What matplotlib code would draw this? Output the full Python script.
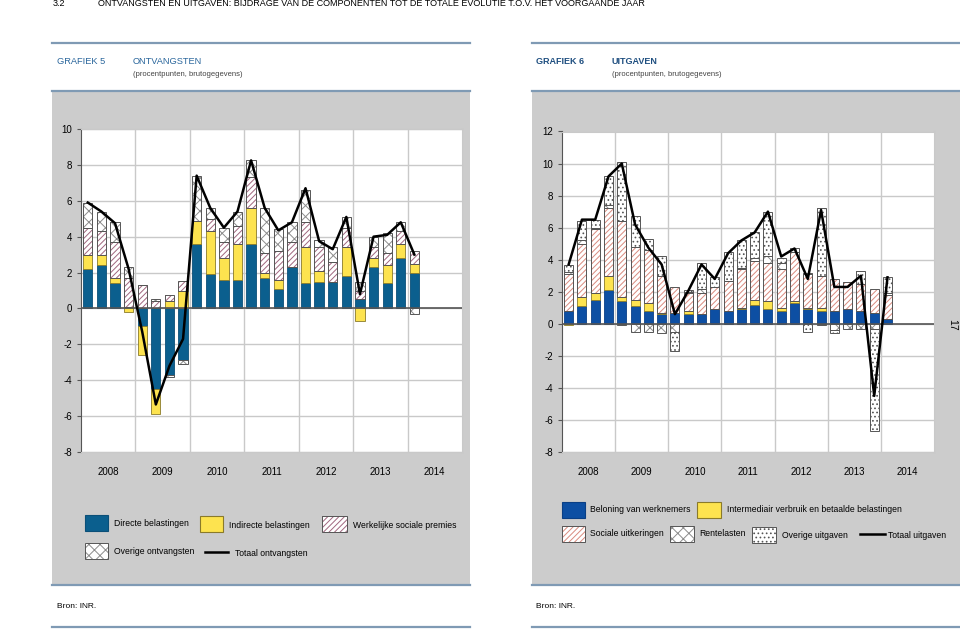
import numpy as np
import matplotlib.pyplot as plt
from matplotlib.patches import Rectangle
from matplotlib.lines import Line2D

plt.rcParams['font.family'] = ['Liberation Sans', 'DejaVu Sans']
plt.rcParams['hatch.linewidth'] = 0.7
plt.rcParams['axes.unicode_minus'] = False

years = ['2008', '2009', '2010', '2011', '2012', '2013', '2014']
quarters = np.arange(25)  # 2008K1 .. 2014K1

# Grafiek 5 - ontvangsten (procentpunten)
directe = [2.2, 2.4, 1.4, 0.1, -1.0, -4.5, -3.7, -2.85, 3.6, 1.9, 1.6, 1.6, 3.6,
           1.7, 1.1, 2.3, 1.4, 1.5, 1.5, 1.8, 0.5, 2.3, 1.4, 2.8, 2.0]
indirecte = [0.8, 0.6, 0.3, -0.2, -1.6, -1.4, 0.4, 1.0, 1.3, 2.4, 1.2, 2.0, 2.0,
             0.3, 0.5, 0.0, 2.0, 0.6, 0.0, 1.6, -0.7, 0.5, 1.0, 0.8, 0.5]
sociale_premies = [1.5, 1.3, 2.0, 1.6, 1.3, 0.4, 0.33, 0.53, 0.0, 0.7, 0.9, 1.0, 1.7,
                   1.1, 1.6, 1.4, 1.4, 1.3, 1.1, 1.1, 0.5, 0.6, 0.7, 0.7, 0.7]
overige_ontv = [1.4, 1.1, 1.1, 0.6, 0.0, 0.1, -0.1, -0.25, 2.5, 0.6, 0.8, 0.8, 1.0,
                2.5, 1.2, 1.1, 1.8, 0.4, 0.8, 0.6, 0.5, 0.6, 1.1, 0.5, -0.3]
totaal_ontv = [5.9, 5.4, 4.75, 2.2, -1.3, -5.35, -3.2, -1.7, 7.4, 5.6, 4.5, 5.4, 8.25,
               5.6, 4.35, 4.8, 6.7, 3.75, 3.3, 5.1, 0.8, 4.0, 4.1, 4.8, 3.0]

# Grafiek 6 - uitgaven (procentpunten)
beloning = [0.8, 1.1, 1.5, 2.1, 1.4, 1.1, 0.8, 0.6, 0.7, 0.6, 0.6, 0.9, 0.8,
            0.9, 1.2, 0.9, 0.8, 1.3, 0.9, 0.8, 0.8, 0.9, 0.8, 0.7, 0.3]
intermediair = [-0.05, 0.6, 0.4, 0.9, 0.3, 0.4, 0.5, 0.1, 0.0, 0.2, 0.0, 0.0, 0.0,
                0.1, 0.3, 0.5, 0.2, 0.1, 0.1, 0.2, 0.0, 0.0, 0.0, 0.0, 0.0]
sociale_uitk = [2.3, 3.3, 4.0, 4.2, 4.7, 3.3, 3.3, 2.3, 1.6, 1.1, 1.35, 1.4, 1.9,
                2.4, 2.4, 2.4, 2.4, 3.1, 2.1, 2.0, 2.0, 1.7, 1.7, 1.5, 1.5]
rentelasten = [0.15, 0.2, 0.1, 0.2, -0.1, -0.5, -0.5, -0.6, -0.5, 0.1, 0.2, 0.0, 0.0,
               0.1, 0.2, 0.4, 0.4, 0.0, 0.1, -0.05, -0.4, -0.3, -0.3, -0.3, 0.1]
overige_uitg = [0.45, 1.2, 0.5, 1.8, 3.7, 1.9, 0.7, 1.2, -1.2, 0.1, 1.65, 0.6, 1.8,
                1.7, 1.6, 2.8, 0.3, 0.2, -0.5, 4.2, -0.2, 0.0, 0.8, -6.4, 1.0]
totaal_uitg = [3.7, 6.5, 6.5, 9.2, 10.0, 6.2, 4.75, 3.7, 0.6, 2.05, 3.7, 2.8, 4.4,
               5.2, 5.7, 7.0, 4.2, 4.7, 2.8, 7.1, 2.3, 2.3, 3.0, -4.5, 2.9]

W, H = 960, 630
fig = plt.figure(figsize=(9.6, 6.3), dpi=100)
fig.patch.set_facecolor('white')

def fx(x):
    return x / W

def fy(y):
    return 1 - y / H

def box(x0, y0, x1, y1, **kw):
    r = Rectangle((fx(x0), fy(y1)), (x1 - x0) / W, (y1 - y0) / H,
                  transform=fig.transFigure, **kw)
    fig.add_artist(r)

def hline(x0, x1, y, **kw):
    fig.add_artist(Line2D([fx(x0), fx(x1)], [fy(y), fy(y)], transform=fig.transFigure, **kw))

def label(x, y, s, **kw):
    kw.setdefault('fontsize', 6.2)
    kw.setdefault('va', 'center')
    fig.text(fx(x), fy(y), s, **kw)

blue_l = dict(facecolor='#0b5f8e', edgecolor='#0b4f78')
blue_r = dict(facecolor='#0d4fa3', edgecolor='#0a3f85')
yellow = dict(facecolor='#fde34f', edgecolor='#8a7a2a')
purple_hatch = dict(facecolor='white', edgecolor='#a0667f', hatch='//////')
red_hatch = dict(facecolor='white', edgecolor='#d98a7e', hatch='//////')
cross = dict(facecolor='white', edgecolor='#8c8c8c', hatch='xxx')
dots = dict(facecolor='white', edgecolor='#555555', hatch='....')

line_col = '#7f9ab4'
grey = '#cccccc'

# panels
box(52, 92, 470, 585, facecolor=grey, edgecolor='none', zorder=-5)
box(532, 92, 960, 585, facecolor=grey, edgecolor='none', zorder=-5)
for x0, x1 in [(52, 470), (532, 960)]:
    for y in [43, 91, 585, 627]:
        hline(x0, x1, y, color=line_col, lw=1.6, zorder=-4)

label(53, 4, '3.2', fontsize=6.5)
label(98, 4, 'ONTVANGSTEN EN UITGAVEN: BIJDRAGE VAN DE COMPONENTEN TOT DE TOTALE EVOLUTIE T.O.V. HET VOORGAANDE JAAR',
      fontsize=6.5)

head = '#2a669c'
label(57, 62, 'GRAFIEK 5', color=head, fontsize=6.7)
label(133, 62, 'ONTVANGSTEN', color=head, fontsize=6.7)
label(133, 74, '(procentpunten, brutogegevens)', color='#444444', fontsize=5.5)
label(536, 62, 'GRAFIEK 6', color='#1f4f80', fontsize=6.5, fontweight='bold')
label(612, 62, 'UITGAVEN', color='#1f4f80', fontsize=6.5, fontweight='bold')
label(612, 75, '(procentpunten, brutogegevens)', color='#444444', fontsize=5.5)

label(57, 607, 'Bron: INR.', fontsize=6)
label(536, 607, 'Bron: INR.', fontsize=6)
label(952, 325, '17', fontsize=7.5, rotation=270, ha='center')


def stacked(ax, series, total):
    pos = np.zeros(len(quarters))
    neg = np.zeros(len(quarters))
    for vals, style in series:
        vals = np.array(vals, dtype=float)
        bottom = np.where(vals >= 0, pos, neg)
        if 'hatch' in style:
            ax.bar(quarters, vals, 0.68, bottom=bottom, lw=0, zorder=2, **style)
            ax.bar(quarters, vals, 0.68, bottom=bottom, fill=False, edgecolor='#555555',
                   lw=0.7, zorder=3)
        else:
            ax.bar(quarters, vals, 0.68, bottom=bottom, lw=0.6, zorder=2, **style)
        pos += np.clip(vals, 0, None)
        neg += np.clip(vals, None, 0)
    ax.plot(quarters, total, color='black', lw=1.8, zorder=5)


def style_axes(ax, ymax):
    ax.set_xlim(-0.5, 27.5)
    ax.set_ylim(-8, ymax)
    ax.set_yticks(np.arange(-8, ymax + 1, 2))
    ax.set_xticks(np.arange(1.5, 28, 4))
    ax.set_xticklabels(years)
    ax.tick_params(axis='x', length=0, pad=11, labelsize=7)
    ax.tick_params(axis='y', length=3, direction='out', labelsize=7, color='#555555')
    for y in np.arange(-8, ymax + 1, 2):
        ax.axhline(y, color='#c9c9c9', lw=1, zorder=1)
    for x in np.arange(3.5, 27, 4):
        ax.axvline(x, color='#c9c9c9', lw=1, zorder=1)
    ax.axhline(0, color='#555555', lw=1.2, zorder=4)
    for side in ['top', 'right', 'bottom']:
        ax.spines[side].set_color('#c9c9c9')
    ax.spines['left'].set_color('#555555')
    ax.set_facecolor('white')


ax1 = fig.add_axes([fx(81), fy(452), (462 - 81) / W, (452 - 129) / H], zorder=1)
stacked(ax1, [(directe, blue_l), (indirecte, yellow), (sociale_premies, purple_hatch),
              (overige_ontv, cross)], totaal_ontv)
style_axes(ax1, 10)

ax2 = fig.add_axes([fx(562), fy(452), (934 - 562) / W, (452 - 131.5) / H], zorder=1)
stacked(ax2, [(beloning, blue_r), (intermediair, yellow), (sociale_uitk, red_hatch),
              (rentelasten, cross), (overige_uitg, dots)], totaal_uitg)
style_axes(ax2, 12)


def legend_patch(x0, y0, x1, y1, style):
    if 'hatch' in style:
        box(x0, y0, x1, y1, lw=0, zorder=2, **style)
        box(x0, y0, x1, y1, fill=False, edgecolor='#555555', lw=0.7, zorder=3)
    else:
        box(x0, y0, x1, y1, lw=0.8, zorder=2, **style)


# legend grafiek 5
legend_patch(85, 515, 108, 531, blue_l)
label(114, 524, 'Directe belastingen')
legend_patch(200, 516, 223, 532, yellow)
label(229, 525, 'Indirecte belastingen')
legend_patch(322, 516, 347, 532, purple_hatch)
label(353, 526, 'Werkelijke sociale premies')
legend_patch(85, 543, 108, 559, cross)
label(114, 551, 'Overige ontvangsten')
hline(205, 228, 552, color='black', lw=1.8)
label(235, 553, 'Totaal ontvangsten')

# legend grafiek 6
legend_patch(562, 502, 585, 518, blue_r)
label(590, 509, 'Beloning van werknemers')
legend_patch(697, 502, 721, 518, yellow)
label(727, 510, 'Intermediair verbruik en betaalde belastingen')
legend_patch(562, 526, 585, 542, red_hatch)
label(590, 533, 'Sociale uitkeringen')
legend_patch(670, 526, 694, 542, cross)
label(699, 533, 'Rentelasten')
legend_patch(752, 527, 776, 543, dots)
label(782, 535, 'Overige uitgaven')
hline(860, 885, 534, color='black', lw=1.8)
label(888, 535, 'Totaal uitgaven')

fig.savefig('out.png', dpi=100)
